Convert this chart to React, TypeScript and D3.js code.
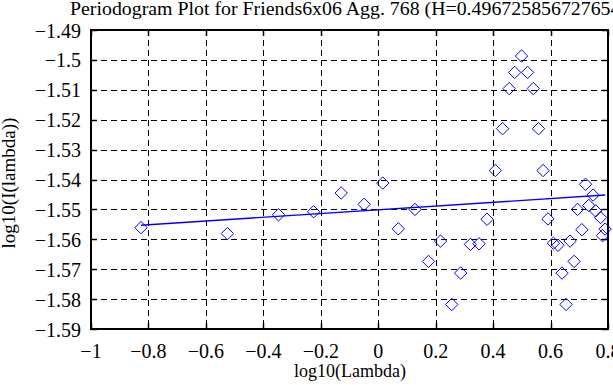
import React, {useEffect, useRef} from 'react'
import * as d3 from 'd3'

// periodogram points (log10 lambda, log10 I(lambda))
const pointX = [
    -0.826, -0.525, -0.347, -0.225, -0.129, -0.049, 0.016, 0.07, 0.128, 0.175,
    0.217, 0.256, 0.287, 0.321, 0.351, 0.379, 0.408, 0.433, 0.456, 0.475,
    0.499, 0.52, 0.54, 0.558, 0.574, 0.591, 0.61, 0.626, 0.64, 0.654,
    0.668, 0.682, 0.694, 0.709, 0.722, 0.733, 0.748, 0.757, 0.774, 0.781, 0.79
]
const pointY = [
    -1.5561, -1.5581, -1.5518, -1.5508, -1.5445, -1.5483, -1.5412, -1.5565, -1.55, -1.5674,
    -1.5606, -1.5818, -1.5713, -1.5617, -1.5615, -1.5533, -1.537, -1.523, -1.5096, -1.5042,
    -1.4987, -1.5042, -1.5096, -1.523, -1.537, -1.5532, -1.5613, -1.562, -1.5713, -1.5818,
    -1.5606, -1.5674, -1.55, -1.5568, -1.5416, -1.5487, -1.5452, -1.5505, -1.5527, -1.5588, -1.5566
]

// least squares fit line end points
const fitX = [-0.826, 0.79]
const fitY = [-1.5553, -1.5452]

const xTicks = [-1, -0.8, -0.6, -0.4, -0.2, 0, 0.2, 0.4, 0.6, 0.8]
const yTicks = [-1.59, -1.58, -1.57, -1.56, -1.55, -1.54, -1.53, -1.52, -1.51, -1.5, -1.49]

const title = 'Periodogram Plot for Friends6x06 Agg. 768 (H=0.4967258567276545)'

const fmt = (v: number) => {
    let s = String(Math.round(v * 1000) / 1000)
    return s.replace('-', '\u2212')
}

export default function App() {
    const ref = useRef<SVGSVGElement>(null)

    useEffect(() => {
        const svg = d3.select(ref.current)
        svg.selectAll('*').remove()

        const left = 91, right = 608, top = 30, bottom = 329
        const x = d3.scaleLinear().domain([-1, 0.8]).range([left, right])
        const y = d3.scaleLinear().domain([-1.59, -1.49]).range([bottom, top])

        const font = "'Liberation Serif', 'Times New Roman', Times, serif"

        svg.append('rect')
            .attr('width', 613).attr('height', 385).attr('fill', 'white')

        // grid
        const grid = svg.append('g')
            .attr('stroke', 'black').attr('stroke-width', 1)
            .attr('stroke-dasharray', '6,4')
        xTicks.slice(1, -1).forEach(t => {
            grid.append('line')
                .attr('x1', Math.round(x(t)) + 0.5).attr('x2', Math.round(x(t)) + 0.5)
                .attr('y1', top).attr('y2', bottom)
        })
        yTicks.slice(1, -1).forEach(t => {
            grid.append('line')
                .attr('y1', Math.round(y(t)) + 0.5).attr('y2', Math.round(y(t)) + 0.5)
                .attr('x1', left).attr('x2', right)
        })

        // ticks on all four sides
        const ticks = svg.append('g').attr('stroke', 'black').attr('stroke-width', 1.5)
        xTicks.forEach(t => {
            const px = Math.round(x(t)) + 0.5
            ticks.append('line').attr('x1', px).attr('x2', px).attr('y1', bottom).attr('y2', bottom - 6)
            ticks.append('line').attr('x1', px).attr('x2', px).attr('y1', top).attr('y2', top + 6)
        })
        yTicks.forEach(t => {
            const py = Math.round(y(t)) + 0.5
            ticks.append('line').attr('y1', py).attr('y2', py).attr('x1', left).attr('x2', left + 6)
            ticks.append('line').attr('y1', py).attr('y2', py).attr('x1', right).attr('x2', right - 6)
        })

        svg.append('rect')
            .attr('x', left).attr('y', top)
            .attr('width', right - left).attr('height', bottom - top)
            .attr('fill', 'none').attr('stroke', 'black').attr('stroke-width', 2)

        // fit line
        const line = d3.line<number>()
            .x((d, i) => x(fitX[i]))
            .y(d => y(d))
        svg.append('path')
            .attr('d', line(fitY))
            .attr('fill', 'none').attr('stroke', '#0000ff').attr('stroke-width', 1.4)

        // diamonds
        const sym = d3.symbol().type(d3.symbolDiamond2).size(98)
        svg.append('g')
            .selectAll('path')
            .data(pointX)
            .enter()
            .append('path')
            .attr('d', sym)
            .attr('transform', (d, i) => `translate(${x(d)},${y(pointY[i])})`)
            .attr('fill', 'none')
            .attr('stroke', '#0000ff')
            .attr('stroke-width', 1)

        // tick labels
        svg.append('g')
            .selectAll('text')
            .data(xTicks)
            .enter()
            .append('text')
            .attr('x', d => x(d))
            .attr('y', 358)
            .attr('text-anchor', 'middle')
            .style('font-family', font).style('font-size', '20px')
            .text(d => fmt(d))

        svg.append('g')
            .selectAll('text')
            .data(yTicks)
            .enter()
            .append('text')
            .attr('x', 81)
            .attr('y', d => y(d) + 7.5)
            .attr('text-anchor', 'end')
            .style('font-family', font).style('font-size', '20px')
            .text(d => fmt(d))

        svg.append('text')
            .attr('x', 350).attr('y', 377)
            .attr('text-anchor', 'middle')
            .style('font-family', font).style('font-size', '18px')
            .text('log10(Lambda)')

        svg.append('text')
            .attr('transform', `translate(15,183) rotate(-90)`)
            .attr('text-anchor', 'middle')
            .style('font-family', font).style('font-size', '19px')
            .text('log10(I(lambda))')

        svg.append('text')
            .attr('x', 70).attr('y', 15)
            .attr('textLength', 567)
            .attr('lengthAdjust', 'spacingAndGlyphs')
            .style('font-family', font).style('font-size', '18px')
            .text(title)
    }, [])

    return (
        <svg ref={ref} width={613} height={385}
            style={{position: 'absolute', left: 0, top: 0, display: 'block'}}/>
    )
}
